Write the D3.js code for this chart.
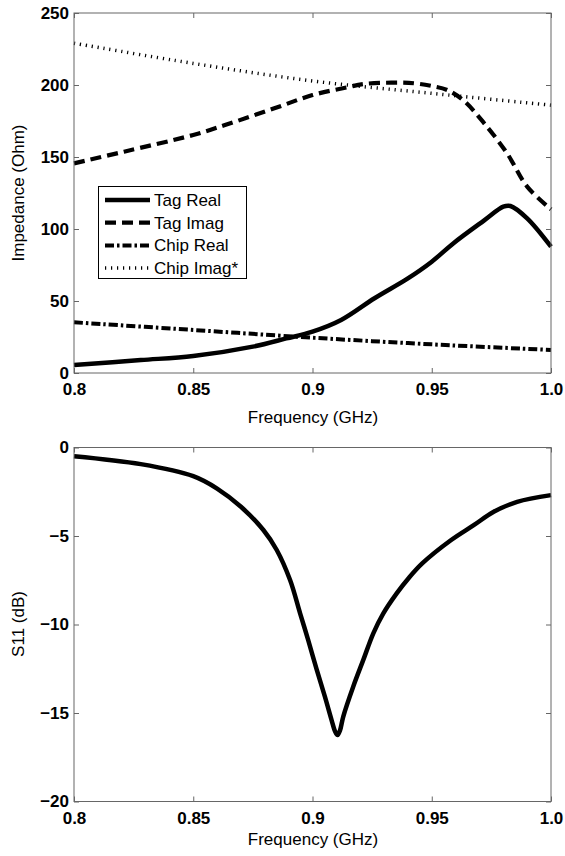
<!DOCTYPE html>
<html>
<head>
<meta charset="utf-8">
<script src="https://d3js.org/d3.v7.min.js"></script>
<style>
  body { margin: 0; background: #fff; }
  text { font-family: Arial, "Liberation Sans", sans-serif; }
</style>
</head>
<body>
<script>
// top plot data (Ohm)
var tagRealF = [0.8, 0.828, 0.85, 0.875, 0.889, 0.9, 0.912, 0.926, 0.94, 0.95, 0.959, 0.972, 0.98, 0.983, 0.99, 1.0];
var tagRealV = [5.6, 9, 11.8, 18.3, 24, 28.7, 36.8, 51.9, 65.7, 77.3, 90, 106, 115.5, 116, 107.4, 87.7];
var tagImagF = [0.8, 0.821, 0.85, 0.863, 0.884, 0.9, 0.9146, 0.9215, 0.933, 0.9425, 0.95, 0.9565, 0.9635, 0.972, 0.9816, 0.99, 1.0];
var tagImagV = [145.6, 153.7, 165.3, 172, 183.8, 193, 198.4, 200.7, 201.6, 201.2, 199.3, 196.5, 189, 173.4, 152.5, 129.4, 113.7];
var chipF = [0.8, 0.85, 0.9, 0.95, 1.0];
var chipRealV = [35.2, 29.9, 24.5, 19.9, 16];
var chipImagV = [229, 215, 202.8, 194.2, 186];

// bottom plot data (dB)
var s11F = [0.8, 0.828, 0.85, 0.86, 0.87, 0.8794, 0.885, 0.8906, 0.8948, 0.8982, 0.9018, 0.9052, 0.908, 0.9095, 0.9105, 0.9115,
            0.9129, 0.9171, 0.9213, 0.9255, 0.9297, 0.9353, 0.9402, 0.946, 0.958, 0.9676, 0.976, 0.9858, 1.0];
var s11V = [-0.49, -0.94, -1.62, -2.32, -3.35, -4.66, -5.79, -7.49, -9.37, -10.88, -12.57, -14.08, -15.4, -16.05, -16.25, -16.0,
            -15.2, -13.5, -12.0, -10.5, -9.37, -8.24, -7.4, -6.55, -5.24, -4.39, -3.63, -3.07, -2.69];

var freqTicks = [0.8, 0.85, 0.9, 0.95, 1.0];
var freqTickLabels = ["0.8", "0.85", "0.9", "0.95", "1.0"];
var impTicks = [0, 50, 100, 150, 200, 250];
var s11Ticks = [-20, -15, -10, -5, 0];

var legendNames = ["Tag Real", "Tag Imag", "Chip Real", "Chip Imag*"];

var styles = [
  {w: 4.5, dash: null},
  {w: 4.2, dash: "11,6"},
  {w: 4, dash: "9,3,2.5,3"},
  {w: 3.5, dash: "1.2,4.8"}
];

function zip(f, v) {
  var out = [];
  for (var i = 0; i < f.length; i++) out.push({x: f[i], y: v[i]});
  return out;
}

var svg = d3.select("body").append("svg")
  .attr("width", 565)
  .attr("height", 856);

function draw_frame(g, xScale, yScale, yTicks) {
  var x0 = xScale.range()[0], x1 = xScale.range()[1];
  var y0 = yScale.range()[0], y1 = yScale.range()[1];

  // bottom axis with labels
  var bx = g.append("g")
    .attr("transform", "translate(0," + y0 + ")")
    .call(d3.axisBottom(xScale).tickValues(freqTicks)
      .tickFormat(function(d, i) { return freqTickLabels[i]; })
      .tickSizeInner(-5).tickSizeOuter(0).tickPadding(10));
  // top axis, ticks only
  var tx = g.append("g")
    .attr("transform", "translate(0," + y1 + ")")
    .call(d3.axisTop(xScale).tickValues(freqTicks).tickFormat("")
      .tickSizeInner(-5).tickSizeOuter(0));
  var ly = g.append("g")
    .attr("transform", "translate(" + x0 + ",0)")
    .call(d3.axisLeft(yScale).tickValues(yTicks)
      .tickSizeInner(-5).tickSizeOuter(0).tickPadding(5));
  var ry = g.append("g")
    .attr("transform", "translate(" + x1 + ",0)")
    .call(d3.axisRight(yScale).tickValues(yTicks).tickFormat("")
      .tickSizeInner(-5).tickSizeOuter(0));

  [bx, tx, ly, ry].forEach(function(a) {
    a.select(".domain").remove();
    a.selectAll("line").attr("stroke", "#666");
    a.selectAll("text")
      .attr("font-size", 17)
      .attr("font-weight", "bold")
      .attr("fill", "#000")
      .attr("font-family", "Arial, 'Liberation Sans', sans-serif");
  });

  g.append("rect")
    .attr("x", x0).attr("y", y1)
    .attr("width", x1 - x0).attr("height", y0 - y1)
    .attr("fill", "none")
    .attr("stroke", "#666")
    .attr("stroke-width", 1);
}

function draw_series(g, xScale, yScale, data, st) {
  var line = d3.line()
    .x(function(d) { return xScale(d.x); })
    .y(function(d) { return yScale(d.y); })
    .curve(d3.curveCatmullRom.alpha(0.5));
  g.append("path")
    .datum(data)
    .attr("d", line)
    .attr("fill", "none")
    .attr("stroke", "#000")
    .attr("stroke-width", st.w)
    .attr("stroke-linejoin", "round")
    .attr("stroke-dasharray", st.dash);
}

// ---- top plot ----
var xTop = d3.scaleLinear().domain([0.8, 1.0]).range([74, 551]);
var yTop = d3.scaleLinear().domain([0, 250]).range([373, 13]);
var gTop = svg.append("g");

var topSeries = [zip(tagRealF, tagRealV), zip(tagImagF, tagImagV), zip(chipF, chipRealV), zip(chipF, chipImagV)];
topSeries.forEach(function(s, i) { draw_series(gTop, xTop, yTop, s, styles[i]); });
draw_frame(gTop, xTop, yTop, impTicks);

// legend
var leg = gTop.append("g");
leg.append("rect")
  .attr("x", 98.5).attr("y", 186.5)
  .attr("width", 148).attr("height", 92)
  .attr("fill", "#fff")
  .attr("stroke", "#000")
  .attr("stroke-width", 1);
legendNames.forEach(function(name, i) {
  var yy = 200 + i * 22.7;
  leg.append("line")
    .attr("x1", 105).attr("x2", 150)
    .attr("y1", yy).attr("y2", yy)
    .attr("stroke", "#000")
    .attr("stroke-width", styles[i].w)
    .attr("stroke-dasharray", styles[i].dash);
  leg.append("text")
    .attr("x", 154).attr("y", yy + 6)
    .attr("font-size", 17)
    .text(name);
});

gTop.append("text")
  .attr("x", 313).attr("y", 423)
  .attr("text-anchor", "middle")
  .attr("font-size", 17)
  .text("Frequency (GHz)");
gTop.append("text")
  .attr("transform", "translate(24,193) rotate(-90)")
  .attr("text-anchor", "middle")
  .attr("font-size", 17)
  .text("Impedance (Ohm)");

// ---- bottom plot ----
var xBot = d3.scaleLinear().domain([0.8, 1.0]).range([74, 551]);
var yBot = d3.scaleLinear().domain([-20, 0]).range([801.5, 447.5]);
var gBot = svg.append("g");

draw_series(gBot, xBot, yBot, zip(s11F, s11V), {w: 4.5, dash: null});
draw_frame(gBot, xBot, yBot, s11Ticks);

gBot.append("text")
  .attr("x", 313).attr("y", 845)
  .attr("text-anchor", "middle")
  .attr("font-size", 17)
  .text("Frequency (GHz)");
gBot.append("text")
  .attr("transform", "translate(24,624) rotate(-90)")
  .attr("text-anchor", "middle")
  .attr("font-size", 17)
  .text("S11 (dB)");
</script>
</body>
</html>
